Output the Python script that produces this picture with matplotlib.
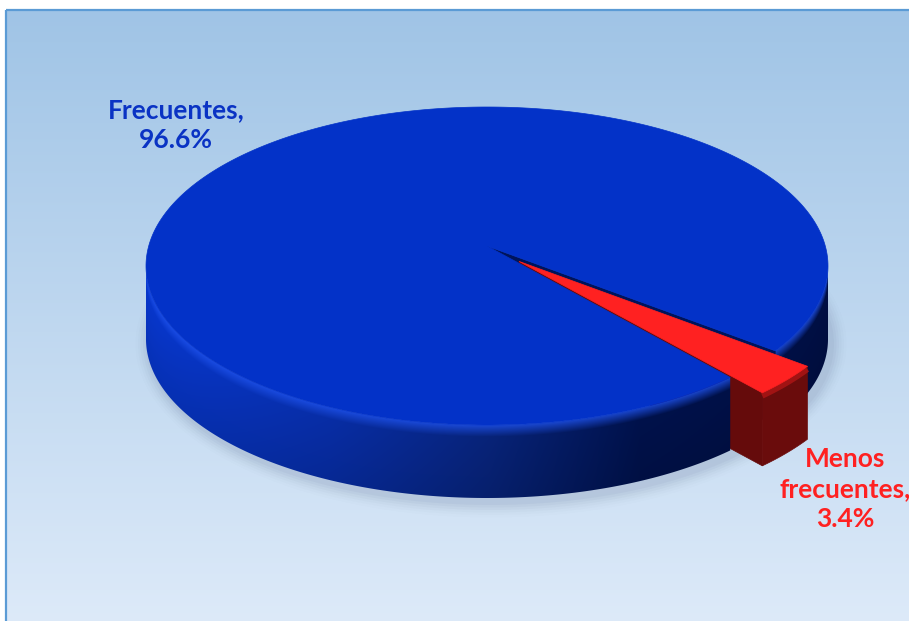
import numpy as np
import matplotlib
matplotlib.use("Agg")
import matplotlib.pyplot as plt
from matplotlib.patches import Polygon, Rectangle, Ellipse

# data
categories = ["Frecuentes", "Menos\nfrecuentes"]
shares = [96.6, 3.4]
slice_colors = ["#0332c8", "#ff2121"]
label_colors = ["#0a33c4", "#ff2121"]

# geometry of the 3-D pie in pixel units (y grows downward)
CX, CY = 487.0, 266.0
RX, RY = 341.0, 159.0
APEX = np.array([487.0, 246.0])
DEPTH = 73.0
START = 44.5  # screen angle where the first slice starts
EXPLODE = 0.12

W, H = 909, 621


def rim(t, off=(0.0, 0.0)):
    t = np.radians(np.asarray(t, dtype=float))
    return np.column_stack([CX + RX * np.cos(t) + off[0], CY + RY * np.sin(t) + off[1]])


BLUE_STOPS_X = [140, 330, 490, 640, 840]
BLUE_STOPS_C = np.array([
    (0.03, 0.22, 0.82),
    (0.03, 0.18, 0.66),
    (0.03, 0.14, 0.48),
    (0.00, 0.07, 0.30),
    (0.00, 0.06, 0.27),
])
BLUE_HL = np.array([0.12, 0.32, 0.92])


def blue_wall_image():
    xx, yy = np.meshgrid(np.arange(W) + 0.5, np.arange(H) + 0.5)
    u = np.clip((xx - CX) / RX, -1, 1)
    ytop = CY + RY * np.sqrt(1 - u ** 2)
    v = np.clip((yy - ytop) / DEPTH, 0, 1)
    base = np.stack([np.interp(xx, BLUE_STOPS_X, BLUE_STOPS_C[:, i]) for i in range(3)], axis=-1)
    w = np.clip(1 - v / 0.16, 0, 1)[..., None] * 0.8
    shade = (1.0 - 0.12 * v)[..., None]
    return np.clip(base * shade * (1 - w) + BLUE_HL * w, 0, 1)


WALL_IMG = blue_wall_image()


def blue_wall(ax, t1, t2):
    ts = np.linspace(t1, t2, 300)
    top = rim(ts)
    bottom = top[::-1] + [0, DEPTH]
    clip = Polygon(np.vstack([top, bottom]), closed=True, facecolor="none", edgecolor="none")
    ax.add_patch(clip)
    im = ax.imshow(WALL_IMG, extent=(0, W, H, 0), aspect="auto", interpolation="bilinear", zorder=2)
    im.set_clip_path(clip)


def red_wall(ax, t1, t2, off):
    ts = np.linspace(t1, t2, 40)
    top = rim(ts, off)
    bottom = top[::-1] + [0, DEPTH]
    ax.add_patch(Polygon(np.vstack([top, bottom]), closed=True, facecolor="#6a0c0c",
                         edgecolor="#6a0c0c", lw=0.5, zorder=2))
    # rounded upper edge of the red side
    ax.plot(top[:, 0], top[:, 1] + 3, color="#b01515", lw=4, alpha=0.8, solid_capstyle="butt", zorder=2)


def cut_face(ax, t, color, off=(0.0, 0.0)):
    r = rim([t], off)[0]
    a = APEX + np.array(off)
    pts = [a, r, r + [0, DEPTH], a + [0, DEPTH]]
    ax.add_patch(Polygon(pts, closed=True, facecolor=color, edgecolor=color, lw=0.5, zorder=2))


def top_face(ax, t1, t2, color, off=(0.0, 0.0)):
    ts = np.linspace(t1, t2, 400)
    pts = np.vstack([APEX + np.array(off), rim(ts, off)])
    ax.add_patch(Polygon(pts, closed=True, facecolor=color, edgecolor=color, lw=0.5, zorder=2))


fig = plt.figure(figsize=(9.09, 6.21), dpi=100)
ax = fig.add_axes([0, 0, 1, 1])
ax.set_xlim(0, W)
ax.set_ylim(H, 0)
ax.axis("off")

# background panel
grad = np.linspace(0, 1, 256)[:, None]
top_c = np.array([0.627, 0.769, 0.902])
bot_c = np.array([0.867, 0.918, 0.976])
img = top_c * (1 - grad[..., None]) + bot_c * grad[..., None]
ax.imshow(img, extent=(6, 915, 625, 10), aspect="auto", zorder=0)
ax.add_patch(Rectangle((6, 10), 920, 620, fill=False, edgecolor="#5b9bd5", lw=1.6, zorder=1))

# soft shadow under the pie
for k, a in enumerate(np.linspace(0.045, 0.01, 6)):
    ax.add_patch(Ellipse((CX + 4, CY + DEPTH + 5), 2 * RX + 4 + 5 * k, 2 * RY + 4 + 5 * k,
                         facecolor="#3a4a6a", alpha=a, edgecolor="none", zorder=1))

# slice angles from the data
total = float(sum(shares))
spans = [s / total * 360.0 for s in shares]
b1, b2 = START, START + spans[0]
r1, r2 = b2, b2 + spans[1]
tm = np.radians(0.5 * (r1 + r2))
off = (EXPLODE * RX * np.cos(tm), EXPLODE * RY * np.sin(tm) * 1.3)

# back part of the blue wall (behind the red slice)
blue_wall(ax, 360.0, b2)
cut_face(ax, b2, "#00145a")

# red slice, pulled out (its visible cut side is the one facing the viewer)
cut_face(ax, r2 % 360, "#650b0b", off)
red_wall(ax, r1, r2, off)
top_face(ax, r1, r2, slice_colors[1], off)

# front blue wall and blue top
blue_wall(ax, b1, 180.0)
top_face(ax, b1, b2, slice_colors[0])

# labels
font = dict(family=["Lato", "DejaVu Sans"], fontweight="bold", fontsize=19,
            ha="center", va="center", linespacing=1.3, zorder=5)
ax.text(176, 125, "{},\n{:.1f}%".format(categories[0], shares[0]), color=label_colors[0], **font)
ax.text(845, 489, "{},\n{:.1f}%".format(categories[1], shares[1]), color=label_colors[1], **font)

fig.savefig("out.png", dpi=100)
